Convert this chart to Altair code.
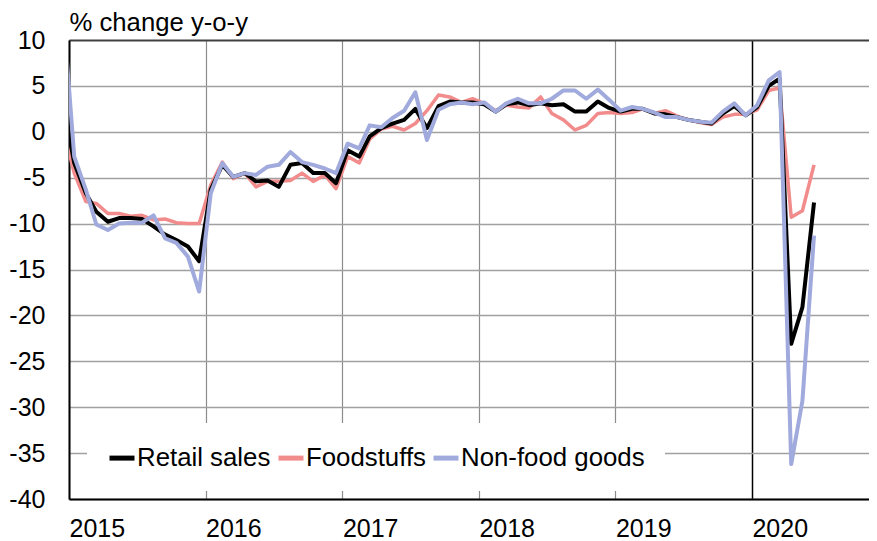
import altair as alt
import pandas as pd

# ---- data (monthly, y-o-y % change) ----
months = pd.period_range("2014-12", "2020-06", freq="M").strftime("%Y-%m").tolist()

retail = [3.4,
          -3.4, -6.7, -8.7, -9.8, -9.4, -9.4, -9.5, -10.3, -11.2, -11.8, -12.5, -14.1,
          -6.3, -3.6, -4.9, -4.5, -5.4, -5.3, -6.0, -3.6, -3.4, -4.5, -4.5, -5.6,
          -2.0, -2.7, -0.5, 0.4, 0.9, 1.3, 2.5, 0.4, 2.8, 3.3, 3.2, 3.2,
          3.0, 2.2, 3.0, 3.2, 2.9, 3.1, 2.9, 3.0, 2.2, 2.2, 3.3, 2.6,
          2.2, 2.5, 2.5, 2.0, 1.9, 1.6, 1.3, 1.1, 0.9, 2.0, 2.8, 1.8,
          2.7, 5.0, 5.8, -23.1, -19.1, -7.7]

food = [0.5,
        -4.5, -7.6, -7.8, -8.9, -8.9, -9.2, -9.1, -9.6, -9.5, -9.9, -10.0, -10.0,
        -5.8, -3.3, -5.1, -4.5, -6.0, -5.4, -5.4, -5.3, -4.5, -5.4, -4.7, -6.2,
        -2.7, -3.4, -0.8, 0.3, 0.6, 0.2, 0.9, 2.3, 4.0, 3.8, 3.2, 3.6,
        3.1, 2.3, 2.9, 2.7, 2.6, 3.8, 2.0, 1.3, 0.2, 0.7, 2.0, 2.1,
        2.0, 2.1, 2.5, 2.0, 2.3, 1.7, 1.3, 1.0, 0.8, 1.6, 1.9, 1.9,
        2.4, 4.5, 4.8, -9.3, -8.6, -3.6]

nonfood = [13.9,
           -2.7, -6.3, -10.1, -10.7, -10.0, -9.9, -9.9, -9.1, -11.6, -12.1, -13.6, -17.4,
           -6.7, -3.4, -4.9, -4.5, -4.7, -3.8, -3.6, -2.2, -3.3, -3.6, -4.0, -4.5,
           -1.3, -1.8, 0.7, 0.5, 1.5, 2.3, 4.3, -0.9, 2.4, 3.0, 3.2, 3.0,
           3.2, 2.2, 3.1, 3.6, 3.1, 3.1, 3.6, 4.5, 4.5, 3.6, 4.6, 3.5,
           2.3, 2.7, 2.5, 2.1, 1.6, 1.6, 1.3, 1.1, 1.0, 2.2, 3.1, 1.8,
           2.9, 5.6, 6.5, -36.2, -29.3, -11.3]

series_names = ["Retail sales", "Foodstuffs", "Non-food goods"]
series_colors = ["#000000", "#f28c8c", "#a0aadc"]
line_widths = {"Retail sales": 4.0, "Foodstuffs": 3.5, "Non-food goods": 4.0}
draw_order = ["Foodstuffs", "Retail sales", "Non-food goods"]

year_ticks = [2015, 2016, 2017, 2018, 2019, 2020]
y_ticks = list(range(-40, 11, 5))

FONT = "Liberation Sans, Arial, sans-serif"

rows = []
for name, vals in zip(series_names, [retail, food, nonfood]):
    for m, v in zip(months, vals):
        rows.append({"date": m + "-15", "series": name, "value": v})
df = pd.DataFrame(rows)

x_enc = alt.X(
    "date:T",
    scale=alt.Scale(
        type="utc",
        domain=[alt.DateTime(year=2015, month=1, date=1, utc=True),
                alt.DateTime(year=2020, month=11, date=9, utc=True)],
    ),
    axis=alt.Axis(
        values=[alt.DateTime(year=y, month=1, date=1, utc=True) for y in year_ticks],
        format="%Y",
        formatType="utc",
        labelAlign="left",
        labelBaseline="top",
        labelPadding=17,
        labelFontSize=25,
        labelFont=FONT,
        labelColor="black",
        labelFlush=False,
        labelOverlap=False,
        ticks=False,
        tickSize=0,
        domainColor="black",
        domainWidth=2,
        grid=True,
        gridColor={"condition": {"test": "utcyear(datum.value) == 2020", "value": "#000000"},
                   "value": "#8c8c8c"},
        gridWidth={"condition": {"test": "utcyear(datum.value) == 2020", "value": 1.5},
                   "value": 1.2},
        title=None,
    ),
)

y_enc = alt.Y(
    "value:Q",
    scale=alt.Scale(domain=[-40, 10], nice=False, zero=False),
    axis=alt.Axis(
        values=y_ticks,
        labelExpr="datum.value < 0 ? '-' + abs(datum.value) : '' + datum.value",
        labelFontSize=25,
        labelFont=FONT,
        labelColor="black",
        labelPadding=24,
        ticks=False,
        tickSize=0,
        domainColor="black",
        domainWidth=2,
        grid=True,
        gridColor={"condition": {"test": "datum.value == 10", "value": "#404040"},
                   "value": "#a0a0a0"},
        gridWidth={"condition": {"test": "datum.value == 10", "value": 2},
                   "value": 1.3},
        title="% change y-o-y",
        titleAngle=0,
        titleAlign="left",
        titleBaseline="alphabetic",
        titleX=0,
        titleY=-10,
        titleFontSize=25.7,
        titleFont=FONT,
        titleFontWeight="normal",
        titleColor="black",
    ),
)

color_enc = alt.Color(
    "series:N",
    scale=alt.Scale(domain=series_names, range=series_colors),
    legend=alt.Legend(
        title=None,
        orient="none",
        legendX=18,
        legendY=383,
        direction="horizontal",
        symbolType="stroke",
        symbolSize=625,
        symbolStrokeWidth=5,
        labelFontSize=25.8,
        labelFont=FONT,
        labelColor="black",
        labelOffset=0,
        labelLimit=0,
        columnPadding=-3,
        padding=20,
        fillColor="white",
    ),
)

base = alt.Chart(df).encode(x=x_enc, y=y_enc, color=color_enc)

layers = [
    base.transform_filter(alt.datum.series == s).mark_line(
        strokeWidth=line_widths[s], clip=True, strokeJoin="round"
    )
    for s in draw_order
]

chart = (
    alt.layer(*layers)
    .properties(
        width=800,
        height=459,
        autosize=alt.AutoSizeParams(type="none"),
        padding={"left": 61, "top": 32, "right": 0, "bottom": 42},
        background="white",
    )
    .configure_view(stroke="transparent")
    .configure(font=FONT)
)

chart.save("out.html", embed_options={"renderer": "svg", "actions": False})
